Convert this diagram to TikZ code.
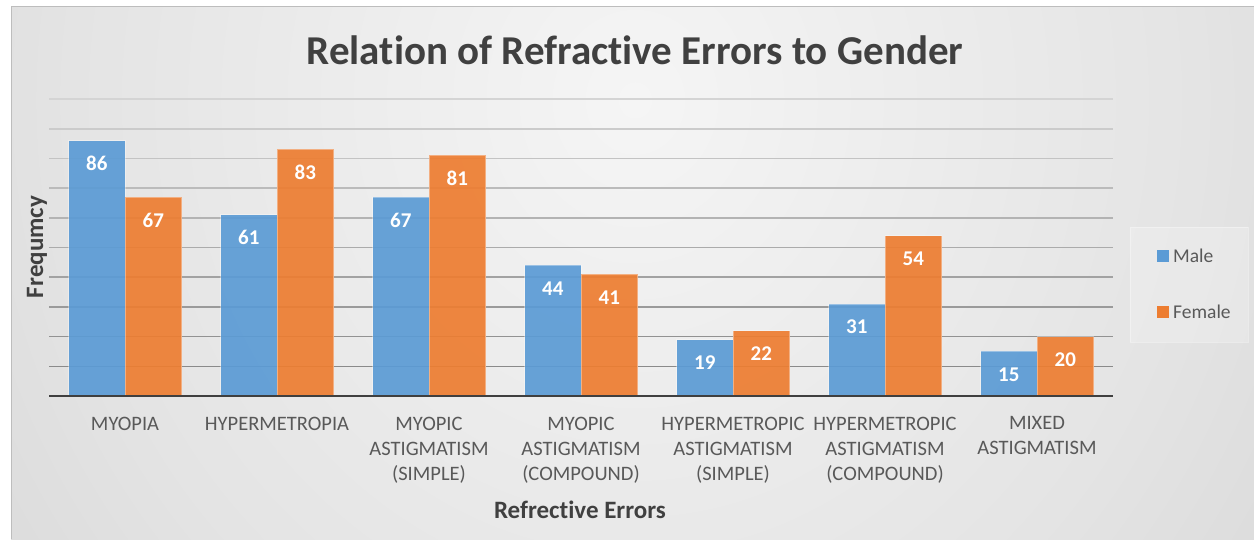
\documentclass[tikz,border=0pt]{standalone}
\usepackage{fontspec}
\setmainfont{Carlito}[Ligatures={NoCommon}]

\definecolor{malebar}{HTML}{5B9BD5}
\definecolor{femalebar}{HTML}{ED7D31}
\definecolor{titlegray}{HTML}{404040}
\definecolor{labelgray}{HTML}{595959}
\definecolor{bgA}{HTML}{F5F5F5}
\definecolor{bgB}{HTML}{E4E4E4}
\definecolor{bgC}{HTML}{C6C6C6}
\definecolor{bgD}{HTML}{BEBEBE}
\definecolor{gridlo}{HTML}{8A8A8A}
\definecolor{gridhi}{HTML}{D4D4D4}
\definecolor{axisdark}{HTML}{3F3F3F}
\definecolor{framegray}{HTML}{BDBDBD}

% soft radial backdrop, bright near the top centre
\pgfdeclareradialshading{chartbg}{\pgfpoint{0bp}{0bp}}{%
  color(0bp)=(bgA); color(22bp)=(bgB); color(50bp)=(bgC); color(72bp)=(bgD)}

\tikzset{
  titletext/.style={font=\fontsize{41}{49}\selectfont\bfseries, text=titlegray, inner sep=0pt},
  axistitle/.style={font=\fontsize{25}{30}\selectfont\bfseries, text=titlegray, inner sep=0pt},
  catlabel/.style={font=\fontsize{20.5}{25}\selectfont, text=labelgray, align=center, inner sep=0pt, anchor=north},
  vallabel/.style={font=\fontsize{21}{25}\selectfont\bfseries, text=white, inner sep=0pt},
  malefill/.style={fill=malebar, fill opacity=.92, draw=white, draw opacity=.35, line width=.8pt},
  femalefill/.style={fill=femalebar, fill opacity=.92, draw=white, draw opacity=.35, line width=.8pt},
  keybox/.style={fill=white, fill opacity=.22, draw=white, draw opacity=.35, line width=.8pt,
    minimum width=118pt, minimum height=115pt, inner sep=0pt},
  keysquare/.style={inner sep=0pt, minimum size=12pt},
  keytext/.style={font=\fontsize{19.5}{24}\selectfont, text=labelgray, inner sep=0pt, anchor=west},
}

\begin{document}
\begin{tikzpicture}[x=1pt, y=-1pt]
\useasboundingbox (0,0) rectangle (1254,539);
\fill[white] (0,0) rectangle (1254,539);

% chart backdrop
\begin{scope}
  \clip (11,6) rectangle (1254,539);
  \shade[shading=chartbg] (-5,-600) rectangle (1275,800);
\end{scope}
\draw[framegray, line width=1pt] (11,539) -- (11,6) -- (1254,6);

% horizontal gridlines every 10 units (2.97 px per unit)
\foreach \v in {1,...,10} {
  \pgfmathtruncatemacro\mix{(\v-1)/9*100}
  \draw[gridhi!\mix!gridlo, line width=1.6pt] (49,396-29.7*\v) -- (1113,396-29.7*\v);
}

% bars, value labels and category labels
\foreach \i/\m/\f/\lab in {
  0/86/67/{MYOPIA},
  1/61/83/{HYPERMETROPIA},
  2/67/81/{MYOPIC\\ASTIGMATISM\\(SIMPLE)},
  3/44/41/{MYOPIC\\ASTIGMATISM\\(COMPOUND)},
  4/19/22/{HYPERMETROPIC\\ASTIGMATISM\\(SIMPLE)},
  5/31/54/{HYPERMETROPIC\\ASTIGMATISM\\(COMPOUND)},
  6/15/20/{MIXED\\ASTIGMATISM}} {
  \pgfmathsetmacro\cx{125+152*\i}
  \fill[malefill] (\cx-56.5,396) rectangle (\cx,396-2.97*\m);
  \fill[femalefill] (\cx,396) rectangle (\cx+56.5,396-2.97*\f);
  \node[vallabel] (male\i) at (\cx-28.25,396-2.97*\m+23) {\m};
  \node[vallabel] (female\i) at (\cx+28.25,396-2.97*\f+23) {\f};
  \node[catlabel] (cat\i) at (\cx,416.5) {\lab};
}

% category axis
\draw[axisdark, line width=2.6pt] (49,396) -- (1113,396);

% titles
\node[titletext, anchor=base] (charttitle) at (635,64) {Relation of Refractive Errors to Gender};
\node[axistitle, anchor=base] (xtitle) at (580,518) {Refrective Errors};
\node[axistitle, anchor=base, rotate=90] (ytitle) at (43,247) {Frequmcy};

% legend
\node[keybox] (legend) at (1189,284.5) {};
\node[keysquare, fill=malebar] (keymale) at (1163,256) {};
\node[keytext] (keymaletext) at (1173,255.5) {Male};
\node[keysquare, fill=femalebar] (keyfemale) at (1163,312) {};
\node[keytext] (keyfemaletext) at (1173,311.5) {Female};
\end{tikzpicture}
\end{document}
